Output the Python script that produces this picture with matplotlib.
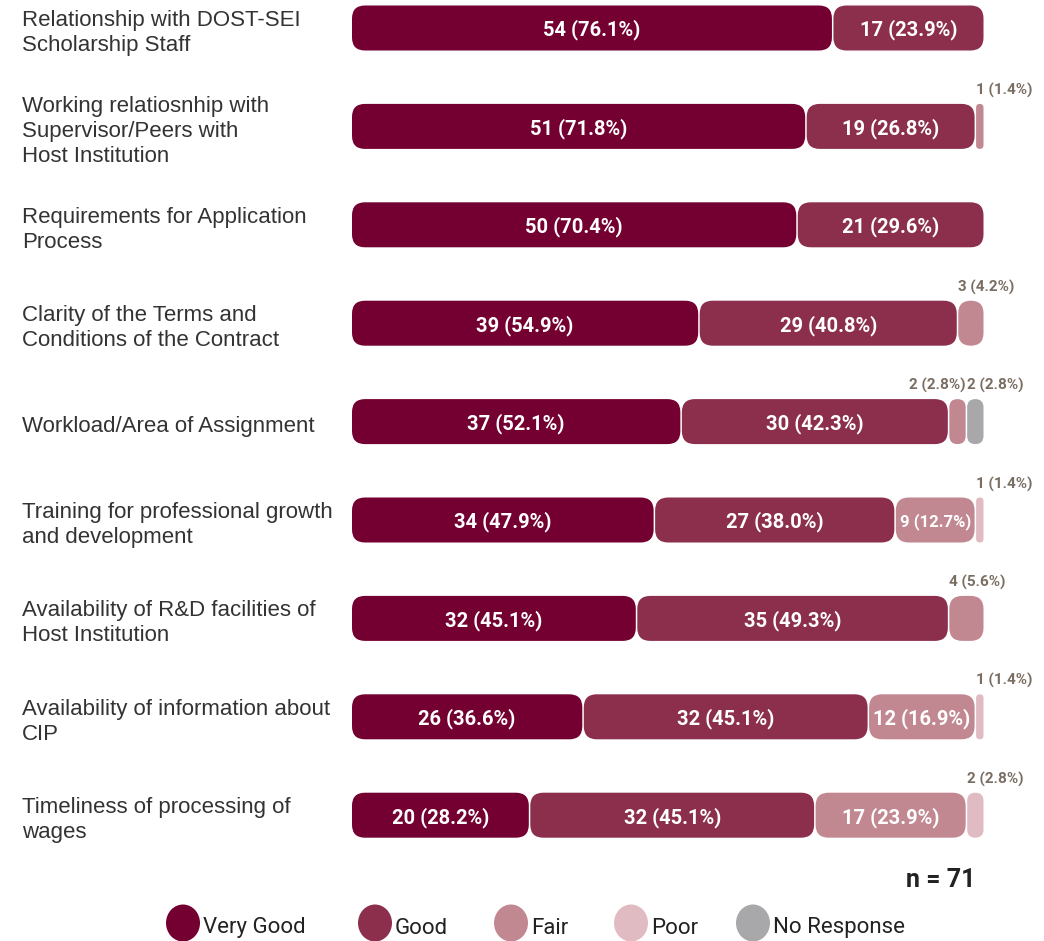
import matplotlib
matplotlib.use("Agg")
import matplotlib.pyplot as plt
from matplotlib.patches import FancyBboxPatch, Ellipse
from matplotlib import transforms

# Survey items and counts per rating (n = 71)
items = [
    "Relationship with DOST-SEI\nScholarship Staff",
    "Working relatiosnhip with\nSupervisor/Peers with\nHost Institution",
    "Requirements for Application\nProcess",
    "Clarity of the Terms and\nConditions of the Contract",
    "Workload/Area of Assignment",
    "Training for professional growth\nand development",
    "Availability of R&D facilities of\nHost Institution",
    "Availability of information about\nCIP",
    "Timeliness of processing of\nwages",
]
ratings = ["Very Good", "Good", "Fair", "Poor", "No Response"]
very_good = [54, 51, 50, 39, 37, 34, 32, 26, 20]
good = [17, 19, 21, 29, 30, 27, 35, 32, 32]
fair = [0, 1, 0, 3, 2, 9, 4, 12, 17]
poor = [0, 0, 0, 0, 0, 1, 0, 1, 2]
no_response = [0, 0, 0, 0, 2, 0, 0, 0, 0]
n_total = 71

colors = ["#730030", "#8b2f4c", "#c28892", "#e0bcc2", "#a8a8ab"]
series = [very_good, good, fair, poor, no_response]

NUM_FONT = ["Roboto", "DejaVu Sans"]
REGULAR = ["Liberation Sans", "DejaVu Sans"]

W, H, DPI = 1044, 941, 100
fig = plt.figure(figsize=(W / DPI, H / DPI), dpi=DPI)

# axes placed in pixel terms: bars start at x=352, full bar is 633 px wide
x0_px, bar_px = 352, 633
top_px, bot_px = 0, 870
row0, row_step = 28, 98.4
ax = fig.add_axes([x0_px / W, (H - bot_px) / H, bar_px / W, (bot_px - top_px) / H])
ax.set_xlim(0, n_total)
ax.set_ylim((bot_px - row0) / row_step, (top_px - row0) / row_step)
ax.axis("off")

px_x = n_total / bar_px          # data units per pixel along x
px_y = 1 / row_step              # data units per pixel along y
aspect = px_y / px_x
radius_px = 13
bar_h = 45 * px_y

small_color = "#7a6e62"
for i in range(len(items)):
    left = 0
    for k, vals in enumerate(series):
        v = vals[i]
        if v == 0:
            continue
        w = v - 1.5 * px_x
        r = min(radius_px * px_x, w / 2, bar_h / 2 / aspect)
        patch = FancyBboxPatch((left, i - bar_h / 2), w, bar_h,
                               boxstyle=f"round,pad=0,rounding_size={r}",
                               mutation_aspect=aspect,
                               facecolor=colors[k], edgecolor="none",
                               clip_on=False)
        ax.add_patch(patch)
        pct = v / n_total * 100
        label = f"{v} ({pct:.1f}%)"
        if pct >= 10:
            fs = 14.5 if v >= 12 else 12
            ax.text(left + w / 2, i + 0.02, label, ha="center", va="center",
                    color="white", fontsize=fs, fontweight="bold", family=NUM_FONT)
        else:
            # tiny segments get their label above the bar
            ha, x = "left", left
            if k == 2 and no_response[i] > 0:
                ha, x = "right", left + w
            ax.text(x, i - bar_h / 2 - 6 * px_y, label, ha=ha, va="bottom",
                    color=small_color, fontsize=11, fontweight="bold",
                    family=NUM_FONT)
        left += v

# item labels on the left
trans = transforms.blended_transform_factory(fig.transFigure, ax.transData)
for i, name in enumerate(items):
    ax.text(22 / W, i + 0.05, name, transform=trans, ha="left", va="center",
            fontsize=16, color="#333333", family=REGULAR, linespacing=1.25)

fig.text(975 / W, 1 - 880 / H, f"n = {n_total}", ha="right", va="center",
         fontsize=18, fontweight="bold", color="#222222", family=NUM_FONT)

# legend with round markers
leg_x = [183, 375, 511, 631, 753]
leg_y = 923
for cx, name, c in zip(leg_x, ratings, colors):
    fig.patches.append(Ellipse((cx / W, 1 - leg_y / H), 34 / W, 37 / H,
                               transform=fig.transFigure, facecolor=c,
                               edgecolor="none"))
    fig.text((cx + 20) / W, 1 - (leg_y + 5) / H, name, ha="left", va="center",
             fontsize=16, color="#222222", family=NUM_FONT)

fig.savefig("out.png", dpi=DPI)
